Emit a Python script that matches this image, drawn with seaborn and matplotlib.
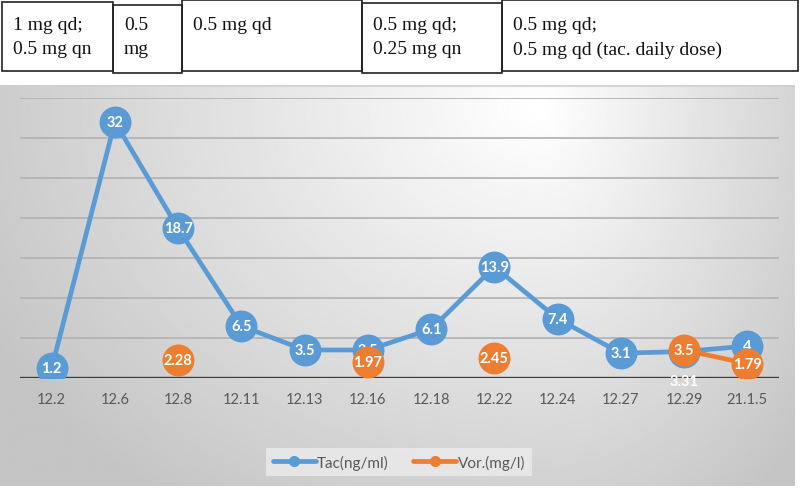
import numpy as np
import pandas as pd
import matplotlib
matplotlib.use('Agg')
import matplotlib.pyplot as plt
import seaborn as sns
from matplotlib.patches import Rectangle
from matplotlib.lines import Line2D

# dati
dates = ['12.2', '12.6', '12.8', '12.11', '12.13', '12.16', '12.18',
         '12.22', '12.24', '12.27', '12.29', '21.1.5']
tac = [1.2, 32, 18.7, 6.5, 3.5, 3.5, 6.1, 13.9, 7.4, 3.1, 3.31, 4]
vor = [np.nan, np.nan, 2.28, np.nan, np.nan, 1.97, np.nan, 2.45,
       np.nan, np.nan, 3.5, 1.79]
dose_lines = [['1 mg qd;', '0.5 mg qn'],
              ['0.5', 'mg'],
              ['0.5 mg qd'],
              ['0.5 mg qd;', '0.25 mg qn'],
              ['0.5 mg qd;', '0.5 mg qd (tac. daily dose)']]

BLUE = '#5B9BD5'
ORANGE = '#ED7D31'
W, H = 800, 489

sns.set_theme(style='white')
plt.rcParams['font.family'] = ['Lato', 'DejaVu Sans']

fig = plt.figure(figsize=(W / 100, H / 100), dpi=100)
fig.patch.set_facecolor('white')

def fx(px):
    return px / W

def fy(py):
    return 1 - py / H

# sfondo sfumato del grafico
bg = fig.add_axes([0, fy(487), fx(795), fy(86) - fy(487)])
gx, gy = np.meshgrid(np.linspace(0, 795, 400), np.linspace(86, 487, 200))
cx, cy = 540, 110
sx = np.where(gx < cx, 600, 340)
d = np.sqrt(((gx - cx) / sx) ** 2 + ((gy - cy) / 470) ** 2)
shade = np.clip(1.0 - 0.22 * d, 0.77, 1.0)
bg.imshow(shade, cmap='gray', vmin=0, vmax=1, aspect='auto',
          extent=[0, 795, 487, 86], interpolation='bilinear')
bg.set_axis_off()
bg.add_line(Line2D([0, 795], [86.5, 86.5], color='#d0d0d0', lw=1.2))

# riquadri delle dosi in alto
boxes = [(2, 113, 3, 72), (113, 182, 6, 74), (182, 362, 1, 72),
         (362, 502, 4, 74), (502, 798, 1, 72)]
for (x0, x1, t, b), lines in zip(boxes, dose_lines):
    fig.patches.append(Rectangle((fx(x0), fy(b)), fx(x1 - x0), fy(t) - fy(b),
                                 transform=fig.transFigure, fill=False,
                                 edgecolor='#222222', lw=1.2))
    for k, s in enumerate(lines):
        fig.text(fx(x0 + 11), fy(25 + 25 * k), s, ha='left', va='center',
                 fontsize=14, family='Liberation Serif', color='#111111')

# area del grafico
ax = fig.add_axes([fx(20), fy(379), fx(779 - 20), fy(99) - fy(379)])
ax.set_facecolor('none')

df = pd.DataFrame({'x': np.arange(len(dates)), 'tac': tac, 'vor': vor})
df['seg'] = np.cumsum(df['vor'].isna())

for yv in range(5, 40, 5):
    ax.axhline(yv, color='#b4b4b4', lw=1.3, zorder=0)
ax.axhline(0, color='#3a3a3a', lw=2.4, zorder=1)

sns.lineplot(data=df, x='x', y='tac', color=BLUE, lw=3.4, marker='o',
             markersize=23, markeredgewidth=0, ax=ax, zorder=3)
vdf = df.dropna(subset=['vor'])
sns.lineplot(data=vdf, x='x', y='vor', units='seg', estimator=None,
             color=ORANGE, lw=3.4, ax=ax, zorder=4)
sns.scatterplot(data=vdf, x='x', y='vor', color=ORANGE, s=23 ** 2,
                linewidth=0, ax=ax, zorder=5)

for i, v in enumerate(tac):
    dy = -21 if dates[i] == '12.29' else 0
    ax.annotate(f'{v:g}', (i, v), xytext=(0, dy), textcoords='offset points',
                ha='center', va='center', color='white', fontsize=10.5,
                fontweight='bold', zorder=4.5)
for i, v in zip(vdf['x'], vdf['vor']):
    ax.annotate(f'{v:g}', (i, v), ha='center', va='center', color='white',
                fontsize=10.5, fontweight='bold', zorder=6)

ax.set_xlim(-0.5, len(dates) - 0.5)
ax.set_ylim(0, 35)
ax.set_xticks(df['x'])
ax.set_xticklabels(dates, color='#595959', fontsize=10.5)
ax.set_yticks([])
ax.tick_params(axis='x', length=0, pad=10)
ax.set_xlabel('')
ax.set_ylabel('')
for sp in ax.spines.values():
    sp.set_visible(False)
ax.margins(0)

handles = [Line2D([], [], color=BLUE, lw=3.4, marker='o', markersize=7),
           Line2D([], [], color=ORANGE, lw=3.4, marker='o', markersize=7)]
leg = fig.legend(handles, ['Tac(ng/ml)', 'Vor.(mg/l)'], ncol=2,
                 loc='center', bbox_to_anchor=(fx(399), fy(463)),
                 frameon=True, fancybox=False, fontsize=11,
                 handlelength=2.8, handletextpad=0.1, columnspacing=1.6,
                 borderpad=0.45)
leg.get_frame().set_facecolor('#ececec')
leg.get_frame().set_edgecolor('none')
for t in leg.get_texts():
    t.set_color('#595959')

fig.savefig('out.png', dpi=100)
